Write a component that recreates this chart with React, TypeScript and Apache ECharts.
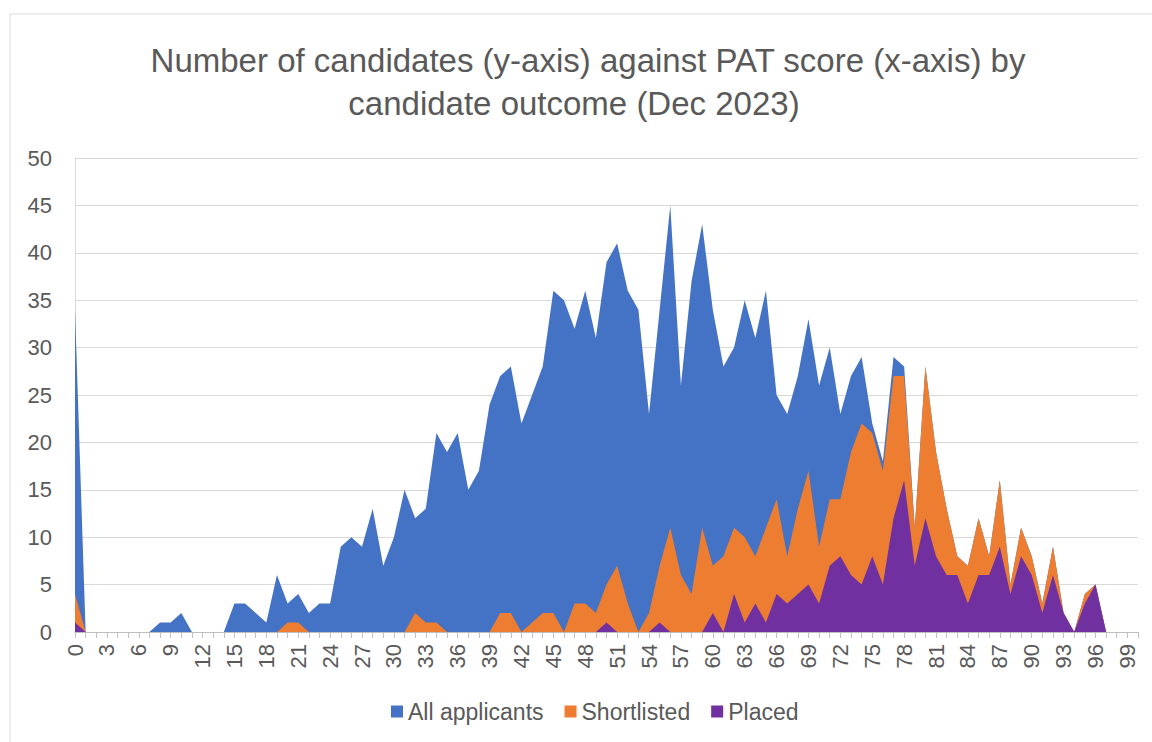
import React, { useEffect, useRef } from "react";
import * as echarts from "echarts";

const scores: string[] = [
  "0","1","2","3","4","5","6","7","8","9","10","11","12","13","14","15","16","17","18","19",
  "20","21","22","23","24","25","26","27","28","29","30","31","32","33","34","35","36","37","38","39",
  "40","41","42","43","44","45","46","47","48","49","50","51","52","53","54","55","56","57","58","59",
  "60","61","62","63","64","65","66","67","68","69","70","71","72","73","74","75","76","77","78","79",
  "80","81","82","83","84","85","86","87","88","89","90","91","92","93","94","95","96","97","98","99","100",
];

const allApplicants: number[] = [
  34, 0, 0, 0, 0, 0, 0, 0, 1, 1, 2, 0, 0, 0, 0, 3, 3, 2, 1, 6,
  3, 4, 2, 3, 3, 9, 10, 9, 13, 7, 10, 15, 12, 13, 21, 19, 21, 15, 17, 24,
  27, 28, 22, 25, 28, 36, 35, 32, 36, 31, 39, 41, 36, 34, 23, 34, 45, 26, 37, 43,
  34, 28, 30, 35, 31, 36, 25, 23, 27, 33, 26, 30, 23, 27, 29, 22, 18, 29, 28, 11,
  28, 19, 13, 8, 7, 12, 8, 16, 5, 11, 8, 3, 9, 2, 0, 4, 5, 0, 0, 0, 0,
];

const shortlisted: number[] = [
  4, 0, 0, 0, 0, 0, 0, 0, 0, 0, 0, 0, 0, 0, 0, 0, 0, 0, 0, 0,
  1, 1, 0, 0, 0, 0, 0, 0, 0, 0, 0, 0, 2, 1, 1, 0, 0, 0, 0, 0,
  2, 2, 0, 1, 2, 2, 0, 3, 3, 2, 5, 7, 3, 0, 2, 7, 11, 6, 4, 11,
  7, 8, 11, 10, 8, 11, 14, 8, 13, 17, 9, 14, 14, 19, 22, 21, 17, 27, 27, 11,
  28, 19, 13, 8, 7, 12, 8, 16, 5, 11, 8, 3, 9, 2, 0, 4, 5, 0, 0, 0, 0,
];

const placed: number[] = [
  1, 0, 0, 0, 0, 0, 0, 0, 0, 0, 0, 0, 0, 0, 0, 0, 0, 0, 0, 0,
  0, 0, 0, 0, 0, 0, 0, 0, 0, 0, 0, 0, 0, 0, 0, 0, 0, 0, 0, 0,
  0, 0, 0, 0, 0, 0, 0, 0, 0, 0, 1, 0, 0, 0, 0, 1, 0, 0, 0, 0,
  2, 0, 4, 1, 3, 1, 4, 3, 4, 5, 3, 7, 8, 6, 5, 8, 5, 12, 16, 7,
  12, 8, 6, 6, 3, 6, 6, 9, 4, 8, 6, 2, 6, 2, 0, 3, 5, 0, 0, 0, 0,
];

const seriesNames = ["All applicants", "Shortlisted", "Placed"];
const seriesColors = ["#4472C4", "#ED7D31", "#7030A0"];
const titleLines = [
  "Number of candidates (y-axis) against PAT score (x-axis) by",
  "candidate outcome (Dec 2023)",
];

const FONT = "'Liberation Sans', Arial, sans-serif";
const GREY = "#595959";

export default function App() {
  const ref = useRef<HTMLDivElement>(null);

  useEffect(() => {
    document.body.style.margin = "0";
    if (!ref.current) return;
    const chart = echarts.init(ref.current, undefined, { renderer: "svg" });
    const values = [allApplicants, shortlisted, placed];
    chart.setOption({
      animation: false,
      backgroundColor: "#ffffff",
      textStyle: { fontFamily: FONT },
      graphic: [
        {
          type: "rect",
          shape: { x: 10, y: 14, width: 1170, height: 760 },
          style: { fill: "none", stroke: "#d9d9d9", lineWidth: 1 },
          silent: true,
        },
        {
          type: "text",
          x: 588,
          y: 60,
          style: {
            text: titleLines[0],
            fontSize: 33,
            fontFamily: FONT,
            fill: GREY,
            textAlign: "center",
            textVerticalAlign: "middle",
          },
        },
        {
          type: "text",
          x: 574,
          y: 103,
          style: {
            text: titleLines[1],
            fontSize: 33,
            fontFamily: FONT,
            fill: GREY,
            textAlign: "center",
            textVerticalAlign: "middle",
          },
        },
      ],
      legend: {
        left: 386,
        top: 695,
        itemWidth: 12,
        itemHeight: 12,
        itemGap: 21,
        icon: "rect",
        textStyle: { fontSize: 23, color: GREY, fontFamily: FONT },
        data: seriesNames,
      },
      grid: { left: 75, right: 14, top: 158, bottom: 110, containLabel: false },
      xAxis: {
        type: "category",
        data: scores,
        boundaryGap: false,
        axisLine: { show: true, lineStyle: { color: "#bfbfbf", width: 1 } },
        axisTick: {
          show: true,
          interval: 0,
          length: 6,
          lineStyle: { color: "#bfbfbf" },
        },
        axisLabel: {
          interval: 2,
          rotate: 90,
          margin: 12,
          fontSize: 22,
          color: GREY,
          fontFamily: FONT,
        },
        splitLine: { show: false },
      },
      yAxis: {
        type: "value",
        min: 0,
        max: 50,
        interval: 5,
        axisLine: { show: true, lineStyle: { color: "#d9d9d9", width: 1 } },
        axisTick: { show: false },
        axisLabel: { fontSize: 22, color: GREY, margin: 23, fontFamily: FONT },
        splitLine: { show: true, lineStyle: { color: "#d9d9d9", width: 1 } },
      },
      series: seriesNames.map((name, i) => ({
        name,
        type: "line",
        data: values[i],
        symbol: "none",
        showSymbol: false,
        smooth: false,
        itemStyle: { color: seriesColors[i] },
        lineStyle: { width: 0, color: seriesColors[i] },
        areaStyle: { color: seriesColors[i], opacity: 1 },
        z: 2 + i,
      })),
    });
    return () => chart.dispose();
  }, []);

  return <div ref={ref} style={{ width: 1152, height: 742 }} />;
}
